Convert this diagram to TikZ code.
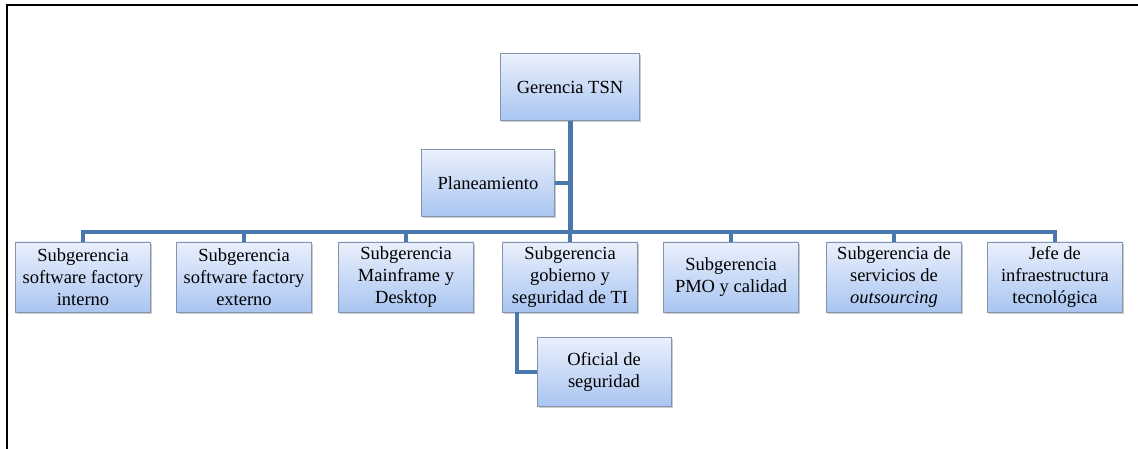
\documentclass[tikz,border=0pt]{standalone}
\usepackage{fontspec}
\setmainfont{Liberation Serif}
\usetikzlibrary{shadows}
\definecolor{linkblue}{HTML}{4A78AC}
\definecolor{boxedge}{HTML}{8494AE}
\definecolor{boxtop}{HTML}{EAF0FC}
\definecolor{boxbottom}{HTML}{A9C5F1}

\begin{document}
\begin{tikzpicture}[
    x=1pt, y=-1pt,
    box/.style={draw=boxedge, line width=0.9pt, top color=boxtop, bottom color=boxbottom,
        minimum width=135pt, minimum height=70pt, align=center, inner sep=2pt,
        font=\fontsize{18.5}{22}\selectfont, text=black,
        drop shadow={opacity=0.4, shadow xshift=1.8pt, shadow yshift=-1.8pt}},
    link/.style={draw=linkblue, line width=3.5pt},
    trunk/.style={draw=linkblue, line width=5pt},
]
\useasboundingbox (0,0) rectangle (1138,449);
\draw[line width=1.5pt] (7,449) -- (7,5) -- (1138,5);

\node[box, minimum width=139pt, minimum height=67pt] (gerencia) at (570,87) {Gerencia TSN};
\node[box, minimum width=133pt, minimum height=67pt] (plan) at (488,183) {Planeamiento};

\node[box] (sfint) at (83,277) {Subgerencia\\software factory\\interno};
\node[box] (sfext) at (244,277) {Subgerencia\\software factory\\externo};
\node[box] (mainframe) at (406,277) {Subgerencia\\Mainframe y\\Desktop};
\node[box] (gobierno) at (570,277) {Subgerencia\\gobierno y\\seguridad de TI};
\node[box] (pmo) at (731,277) {Subgerencia\\PMO y calidad};
\node[box] (outsourcing) at (894,277) {Subgerencia de\\servicios de\\\textit{outsourcing}};
\node[box] (infra) at (1055,277) {Jefe de\\infraestructura\\tecnológica};

\node[box, minimum width=134pt, minimum height=69pt] (oficial) at (604,372) {Oficial de\\seguridad};

\coordinate (bus) at (570,232);

\draw[trunk] (gerencia.south) -- (bus);
\draw[link] (plan.east) -- (plan.east -| bus);
\draw[link] (sfint.north) |- (bus) -| (infra.north);
\draw[link] (sfext.north) -- (sfext.north |- bus);
\draw[link] (mainframe.north) -- (mainframe.north |- bus);
\draw[link] (gobierno.north) -- (bus);
\draw[link] (pmo.north) -- (pmo.north |- bus);
\draw[link] (outsourcing.north) -- (outsourcing.north |- bus);
\draw[link] ([xshift=-53pt]gobierno.south) |- (oficial.west);

\end{tikzpicture}
\end{document}
